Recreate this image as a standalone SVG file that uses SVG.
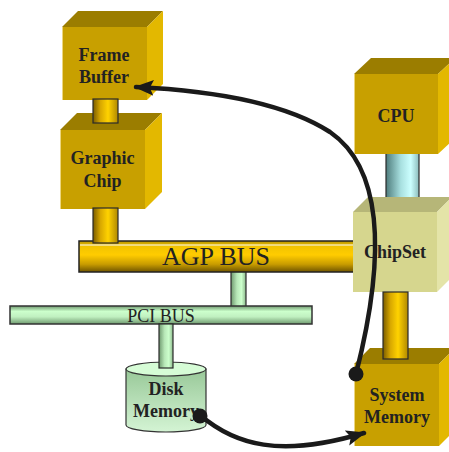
<svg xmlns="http://www.w3.org/2000/svg" width="449" height="452" viewBox="0 0 449 452">
  <defs>
    <style>
      .label { font-family: "Liberation Serif", "Times New Roman", serif; font-weight: bold; font-size: 18px; fill: #222; text-anchor: middle; }
      .bus { font-family: "Liberation Serif", "Times New Roman", serif; fill: #222; text-anchor: middle; }
      .gold-front { fill: #c8a000; }
      .gold-top { fill: #9b7d00; }
      .gold-side { fill: #e3b800; }
      .pale-front { fill: #d6d68e; }
      .pale-top { fill: #b6b678; }
      .pale-side { fill: #e4e4a8; }
      .edge { stroke: #ecd680; stroke-width: 1; }
      .pipe { stroke: #2a2a2a; stroke-width: 1.2; }
      .flow { fill: none; stroke: #1a1a1a; stroke-width: 4.5; stroke-linecap: round; }
    </style>
    <linearGradient id="goldBar" x1="0" y1="0" x2="0" y2="1">
      <stop offset="0" stop-color="#b89400"/>
      <stop offset="0.18" stop-color="#f2c400"/>
      <stop offset="0.45" stop-color="#ffcc00"/>
      <stop offset="0.75" stop-color="#c89c00"/>
      <stop offset="1" stop-color="#6e5400"/>
    </linearGradient>
    <linearGradient id="goldPipe" x1="0" y1="0" x2="1" y2="0">
      <stop offset="0" stop-color="#7a5c00"/>
      <stop offset="0.3" stop-color="#d8a800"/>
      <stop offset="0.6" stop-color="#ffd200"/>
      <stop offset="1" stop-color="#b08800"/>
    </linearGradient>
    <linearGradient id="cyanPipe" x1="0" y1="0" x2="1" y2="0">
      <stop offset="0" stop-color="#4e7c7c"/>
      <stop offset="0.45" stop-color="#a8e0e0"/>
      <stop offset="0.75" stop-color="#ccffff"/>
      <stop offset="1" stop-color="#8cbcbc"/>
    </linearGradient>
    <linearGradient id="greenBar" x1="0" y1="0" x2="0" y2="1">
      <stop offset="0" stop-color="#6f9a6f"/>
      <stop offset="0.3" stop-color="#ccffcc"/>
      <stop offset="0.6" stop-color="#c0f0c0"/>
      <stop offset="1" stop-color="#6f9a6f"/>
    </linearGradient>
    <linearGradient id="greenPipe" x1="0" y1="0" x2="1" y2="0">
      <stop offset="0" stop-color="#6f9a6f"/>
      <stop offset="0.4" stop-color="#b8e8b8"/>
      <stop offset="0.7" stop-color="#ccffcc"/>
      <stop offset="1" stop-color="#8cb88c"/>
    </linearGradient>
    <linearGradient id="diskBody" x1="0" y1="0" x2="0" y2="1">
      <stop offset="0" stop-color="#98c898"/>
      <stop offset="1" stop-color="#d4f4d4"/>
    </linearGradient>
    <marker id="arrow" viewBox="0 0 10 8" refX="9" refY="4" markerWidth="4.4" markerHeight="3.5" orient="auto" markerUnits="strokeWidth">
      <path d="M0,0 L10,4 L0,8 L2,4 Z" fill="#1a1a1a"/>
    </marker>
  </defs>

  <rect width="449" height="452" fill="#ffffff"/>

  <!-- buses and the pipes that sit behind the boxes -->
  <g id="connectors-back">
    <rect x="386" y="152" width="33" height="50" fill="url(#cyanPipe)" class="pipe"/>
    <rect x="231" y="270" width="15" height="38" fill="url(#greenPipe)" class="pipe"/>
    <rect x="79" y="241" width="276" height="31" fill="url(#goldBar)" stroke="#222" stroke-width="1.5"/>
    <line x1="80" y1="245" x2="354" y2="245" stroke="#ffffff" stroke-width="1"/>
    <text class="bus" x="216" y="265" font-size="26">AGP BUS</text>
    <rect x="10" y="306" width="302" height="18" fill="url(#greenBar)" stroke="#333" stroke-width="1.5"/>
    <text class="bus" x="161" y="322" font-size="18">PCI BUS</text>
  </g>

  <g id="frame-buffer">
    <polygon class="gold-top" points="62,27 78,11 163,11 147,27"/>
    <polygon class="gold-side" points="147,27 163,11 163,84 147,100"/>
    <rect class="gold-front" x="62" y="27" width="85" height="73"/>
    <line class="edge" x1="62.5" y1="27" x2="62.5" y2="100"/>
    <text class="label" x="104" y="61">Frame</text>
    <text class="label" x="104" y="83">Buffer</text>
  </g>

  <g id="graphic-chip">
    <polygon class="gold-top" points="60,130 77,113 162,113 145,130"/>
    <polygon class="gold-side" points="145,130 162,113 162,192 145,209"/>
    <rect class="gold-front" x="60" y="130" width="85" height="79"/>
    <line class="edge" x1="60.5" y1="130" x2="60.5" y2="209"/>
    <text class="label" x="102.5" y="164">Graphic</text>
    <text class="label" x="102.5" y="187">Chip</text>
  </g>

  <g id="cpu">
    <polygon class="gold-top" points="354,74 371,58 455,58 438,74"/>
    <polygon class="gold-side" points="438,74 455,58 455,138 438,154"/>
    <rect class="gold-front" x="354" y="74" width="84" height="80"/>
    <line class="edge" x1="354.5" y1="74" x2="354.5" y2="154"/>
    <text class="label" x="396" y="122">CPU</text>
  </g>

  <g id="chipset">
    <polygon class="pale-top" points="353,212 368,197 452,197 437,212"/>
    <polygon class="pale-side" points="437,212 452,197 452,277 437,292"/>
    <rect class="pale-front" x="353" y="212" width="84" height="80"/>
    <text class="label" x="395" y="258">ChipSet</text>
  </g>

  <g id="system-memory">
    <polygon class="gold-top" points="354,364 370,348 455,348 439,364"/>
    <polygon class="gold-side" points="439,364 455,348 455,430 439,446"/>
    <rect class="gold-front" x="354" y="364" width="85" height="82"/>
    <line class="edge" x1="354.5" y1="364" x2="354.5" y2="446"/>
    <text class="label" x="397" y="401">System</text>
    <text class="label" x="397" y="423">Memory</text>
  </g>

  <g id="disk-memory">
    <path d="M126,369 L126,425 A40,7 0 0 0 206,425 L206,369 Z" fill="url(#diskBody)" stroke="#333" stroke-width="1.2"/>
    <ellipse cx="166" cy="369" rx="40" ry="7" fill="#d6fcd6" stroke="#333" stroke-width="1.2"/>
    <text class="label" x="166" y="395">Disk</text>
    <text class="label" x="166" y="417">Memory</text>
  </g>

  <!-- pipes that lie over the top faces, and the data flow arrows -->
  <g id="connectors">
    <rect x="93" y="99" width="25" height="24" fill="url(#goldPipe)" class="pipe"/>
    <rect x="93" y="208" width="25" height="35" fill="url(#goldPipe)" class="pipe"/>
    <rect x="383" y="292" width="25" height="67" fill="url(#goldPipe)" class="pipe"/>
    <rect x="159" y="324" width="14" height="44" fill="url(#greenPipe)" class="pipe"/>
    <path class="flow" d="M356,374 C385,260 385,170 330,132 C280,100 200,90 136,87" marker-end="url(#arrow)"/>
    <circle cx="356" cy="374" r="7.5" fill="#1a1a1a"/>
    <path class="flow" d="M200,415 C235,445 280,458 364,433" marker-end="url(#arrow)"/>
    <circle cx="200" cy="416" r="7.5" fill="#1a1a1a"/>
  </g>
</svg>
